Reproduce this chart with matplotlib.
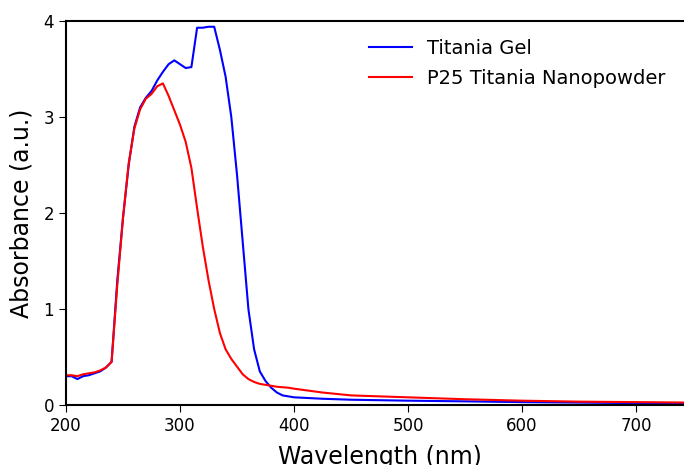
import matplotlib.pyplot as plt

wl = [200, 205, 210, 215, 220, 225, 230, 235, 240, 245, 250, 255, 260, 265, 270,
      275, 280, 285, 290, 295, 300, 305, 310, 315, 320, 325, 330, 335, 340, 345,
      350, 355, 360, 365, 370, 375, 380, 385, 390, 395, 400, 425, 450, 500, 550,
      600, 650, 700, 750]

gel = [0.30, 0.30, 0.27, 0.30, 0.31, 0.33, 0.35, 0.39, 0.45, 1.30, 1.95, 2.50, 2.90, 3.10, 3.20,
       3.27, 3.38, 3.47, 3.55, 3.59, 3.55, 3.51, 3.52, 3.93, 3.93, 3.94, 3.94, 3.70, 3.42, 3.00,
       2.40, 1.70, 1.00, 0.58, 0.35, 0.25, 0.18, 0.13, 0.10, 0.09, 0.08, 0.065, 0.055, 0.045, 0.038,
       0.03, 0.025, 0.02, 0.015]

p25 = [0.31, 0.31, 0.30, 0.32, 0.33, 0.34, 0.36, 0.39, 0.45, 1.25, 1.95, 2.52, 2.88, 3.08, 3.19,
       3.24, 3.32, 3.35, 3.22, 3.07, 2.92, 2.74, 2.47, 2.05, 1.65, 1.30, 1.00, 0.75, 0.58, 0.48,
       0.40, 0.32, 0.27, 0.24, 0.22, 0.21, 0.20, 0.19, 0.185, 0.18, 0.17, 0.13, 0.10, 0.08, 0.06,
       0.045, 0.035, 0.03, 0.025]

fig = plt.figure(figsize=(6.84, 4.65), dpi=100)
ax = fig.add_axes([66/684, 60/465, 627/684, 384/465])

ax.plot(wl, gel, color="blue", lw=1.5, label="Titania Gel")
ax.plot(wl, p25, color="red", lw=1.5, label="P25 Titania Nanopowder")

ax.set_xlim(200, 750)
ax.set_ylim(0, 4)
ax.set_xticks([200, 300, 400, 500, 600, 700])
ax.set_yticks([0, 1, 2, 3, 4])
ax.tick_params(direction="out", length=5, labelsize=12, top=False, right=False)
ax.spines["right"].set_visible(False)
for s in ax.spines.values():
    s.set_linewidth(1.5)

ax.set_xlabel("Wavelength (nm)", fontsize=17, labelpad=7)
ax.set_ylabel("Absorbance (a.u.)", fontsize=17, labelpad=7)

ax.legend(frameon=False, fontsize=14, loc="upper left",
          bbox_to_anchor=(0.455, 1.0), handlelength=2.2, labelspacing=0.6)

fig.savefig("out.png", dpi=100)
